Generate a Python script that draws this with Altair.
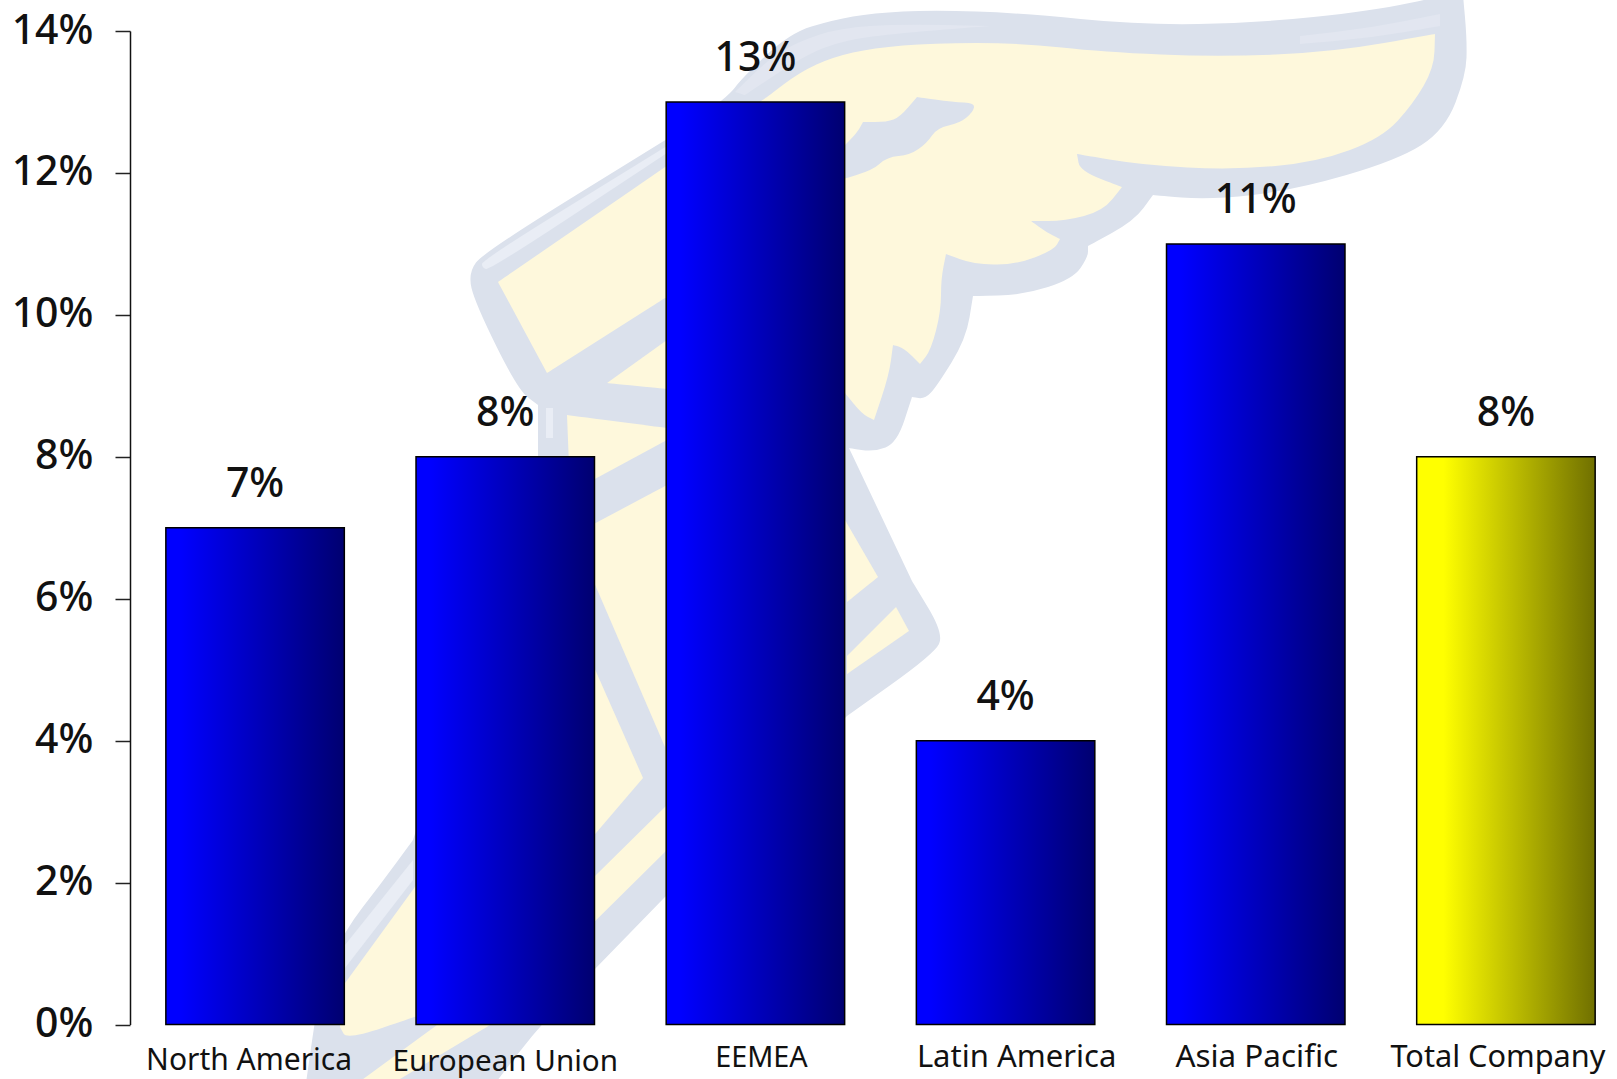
import altair as alt
import pandas as pd

# Regional growth figures, as fractions
regions = ["North America", "European Union", "EEMEA", "Latin America", "Asia Pacific", "Total Company"]
growth = [0.07, 0.08, 0.13, 0.04, 0.11, 0.08]
y_ticks = [0, 0.02, 0.04, 0.06, 0.08, 0.10, 0.12, 0.14]

FONT = "Noto Sans"
BLUE = alt.LinearGradient(gradient="linear", x1=0, x2=1, y1=0, y2=0, stops=[
    alt.GradientStop(offset=0.08, color="#0000ff"), alt.GradientStop(offset=1, color="#000070")])
YELLOW = alt.LinearGradient(gradient="linear", x1=0, x2=1, y1=0, y2=0, stops=[
    alt.GradientStop(offset=0.15, color="#ffff00"), alt.GradientStop(offset=1, color="#707000")])

# Canvas layout
CANVAS_W, CANVAS_H = 1617, 1079
LEFT, TOP = 130, 31
PLOT_W, PLOT_H = CANVAS_W - LEFT, 993.5
BAND_SPAN = 1501

# Hand-placed category captions: horizontal nudge, baseline height, font size
CAPTION_PLACEMENT = {
    "North America": (-6, 1070, 30),
    "European Union": (0, 1071, 29.6),
    "EEMEA": (6, 1067, 28.8),
    "Latin America": (11, 1067, 31),
    "Asia Pacific": (1, 1067, 31.4),
    "Total Company": (-8, 1067, 30.7),
}

# Winged-foot emblem behind the bars; a point listed twice keeps a sharp corner
OUTLINE_COLOR = "#dbe1ec"
CREAM = "#fef8dc"
HIGHLIGHT = "#e9edf5"
SOFT_HIGHLIGHT = "#e2e6f0"
C = lambda x, y: [(x, y), (x, y)]
EMBLEM_SILHOUETTE = [
    *C(1463, -5), (1467, 40), (1466, 75), (1445, 130), (1398, 160), (1295, 190), (1210, 200), *C(1153, 195),
    (1134, 221), *C(1088, 246), (1088, 257), (1073, 279), (1023, 295), *C(973, 296), (966, 339), (937, 386),
    (925, 399), *C(912, 397), (897, 443), (874, 452), *C(849, 448), *C(912, 581), (944, 634), (934, 654),
    *C(847, 716), *C(665, 897), *C(594, 970), (540, 1025), *C(490, 1090), *C(305, 1090), (320, 985), (345, 930),
    (380, 885), *C(413, 840), *C(538, 457), *C(538, 405), (518, 390), (475, 303), (468, 273), (484, 252),
    *C(667, 139), (727, 98), (743, 77), (790, 33), (833, 20), (873, 13), (933, 10), (1020, 13), (1141, 25),
    (1256, 23), (1371, 11), *C(1448, -5),
]
EMBLEM_CREAM = [
    # wing
    [*C(1435, 34), (1434, 68), (1413, 104), (1382, 138), (1318, 162), (1233, 170), (1142, 165), *C(1077, 154),
     (1080, 171), *C(1122, 187), (1103, 211), (1065, 221), *C(1031, 221), (1046, 232), *C(1060, 239), (1054, 250),
     (1015, 265), (973, 264), *C(946, 254), (941, 279), (941, 311), (931, 350), *C(920, 364), (904, 348),
     *C(893, 345), (889, 375), *C(874, 420), (862, 414), *C(845, 393), *C(760, 300), *C(665, 298), *C(547, 373),
     *C(498, 282), *C(767, 97), (800, 72), (833, 57), (873, 48), (933, 43), (1020, 43), (1103, 52), (1218, 57),
     (1333, 52)],
    # ankle straps
    [*C(607, 383), *C(667, 340), *C(667, 389)],
    [*C(567, 415), *C(667, 428), *C(667, 440), *C(593, 480), *C(570, 490)],
    # shin
    [*C(667, 485), *C(590, 526), *C(590, 573), *C(665, 747)],
    [*C(590, 658), *C(643, 778), *C(590, 840)],
    # sole
    [*C(667, 805), *C(667, 850), *C(490, 1025), *C(390, 1085), *C(355, 1085), *C(437, 1025), *C(594, 877)],
    # instep
    [*C(420, 880), *C(340, 990), *C(340, 1027), (347, 1040), *C(420, 1015)],
    # heel
    [*C(845, 520), *C(878, 577), *C(847, 602)],
    [*C(896, 607), *C(909, 631), *C(847, 674), *C(847, 656)],
]
EMBLEM_NOTCH = [
    *C(840, 180), (873, 170), (887, 157), (910, 155), (927, 143), (937, 128), (960, 123), (973, 112), (975, 103),
    (953, 102), *C(917, 97), (900, 117), (887, 122), *C(863, 122), (857, 133), *C(840, 150),
]
EMBLEM_HIGHLIGHTS = [
    [(482, 268), (482, 260), *C(667, 146), *C(667, 153), (490, 270)],
    [*C(413, 860), *C(345, 945), *C(345, 968), *C(413, 880)],
    [*C(546, 408), *C(553, 408), *C(553, 438), *C(546, 438)],
]
EMBLEM_SOFT_HIGHLIGHTS = [
    [*C(735, 92), (770, 58), (800, 41), (840, 28), (900, 24), *C(990, 26), (900, 33), (845, 40), (805, 55), *C(745, 95)],
    [*C(1300, 36), (1370, 28), *C(1440, 14), *C(1440, 26), (1370, 38), *C(1300, 44)],
]


def symbol_path(points, radius=1000.0):
    """Closed smoothed outline, in the unit coordinates of a custom Vega symbol centred on the canvas."""
    cx, cy = CANVAS_W / 2, CANVAS_H / 2
    pts = [((x - cx) / radius, (y - cy) / radius) for x, y in points]
    mids = [((pts[i][0] + pts[(i + 1) % len(pts)][0]) / 2, (pts[i][1] + pts[(i + 1) % len(pts)][1]) / 2)
            for i in range(len(pts))]
    path = f"M{mids[-1][0]:.5f},{mids[-1][1]:.5f}"
    for p, m in zip(pts, mids):
        path += f"Q{p[0]:.5f},{p[1]:.5f} {m[0]:.5f},{m[1]:.5f}"
    return path + "Z"


def emblem_layer(points, color):
    return alt.Chart(pd.DataFrame({"part": [0]})).mark_point(
        shape=symbol_path(points), size=4_000_000, filled=True, fill=color, opacity=1, strokeWidth=0,
    ).encode(x=alt.value(CANVAS_W / 2 - LEFT), y=alt.value(CANVAS_H / 2 - TOP))


table = pd.DataFrame({"region": regions, "growth": growth})
x_scale = alt.Scale(domain=regions, range=[0, BAND_SPAN], paddingInner=0.2866, paddingOuter=0.1433)
y_scale = alt.Scale(domain=[0, 0.14], nice=False)
x_enc = alt.X("region:N", scale=x_scale, axis=None)
y_enc = alt.Y(
    "growth:Q", scale=y_scale,
    axis=alt.Axis(
        values=y_ticks, format=".0%", title=None, grid=False, tickSize=15, tickWidth=1.5, tickColor="#222222",
        domainColor="#111111", domainWidth=1.5, labelFont=FONT, labelFontSize=41, labelColor="#111111",
        labelPadding=22, labelFontWeight=500,
    ),
)


def bars(rows, fill):
    return alt.Chart(rows).mark_bar(fill=fill, stroke="#000000", strokeWidth=1.5).encode(x=x_enc, y=y_enc)


layers = [emblem_layer(EMBLEM_SILHOUETTE, OUTLINE_COLOR)]
layers += [emblem_layer(p, HIGHLIGHT) for p in EMBLEM_HIGHLIGHTS]
layers += [emblem_layer(p, SOFT_HIGHLIGHT) for p in EMBLEM_SOFT_HIGHLIGHTS]
layers += [emblem_layer(p, CREAM) for p in EMBLEM_CREAM]
layers += [emblem_layer(EMBLEM_NOTCH, OUTLINE_COLOR)]

layers += [
    bars(table[table.region != "Total Company"], BLUE),
    bars(table[table.region == "Total Company"], YELLOW),
    alt.Chart(table).mark_text(
        font=FONT, fontSize=41, fontWeight=500, color="#111111", baseline="alphabetic", align="center", dy=-30.5,
    ).encode(x=x_enc, y=y_enc, text=alt.Text("growth:Q", format=".0%")),
]

for region, (nudge, baseline_y, size) in CAPTION_PLACEMENT.items():
    layers.append(
        alt.Chart(table[table.region == region]).mark_text(
            font=FONT, fontSize=size, color="#111111", baseline="alphabetic", align="center", dx=nudge,
        ).encode(x=x_enc, y=alt.value(baseline_y - TOP), text="region:N")
    )

chart = alt.layer(*layers).properties(
    width=PLOT_W, height=PLOT_H, background="#ffffff",
    padding={"left": LEFT, "top": TOP, "right": 0, "bottom": 54},
    autosize=alt.AutoSizeParams(type="none"),
).configure_view(stroke=None)

chart.save("out.html", embed_options={"renderer": "svg", "actions": False})
